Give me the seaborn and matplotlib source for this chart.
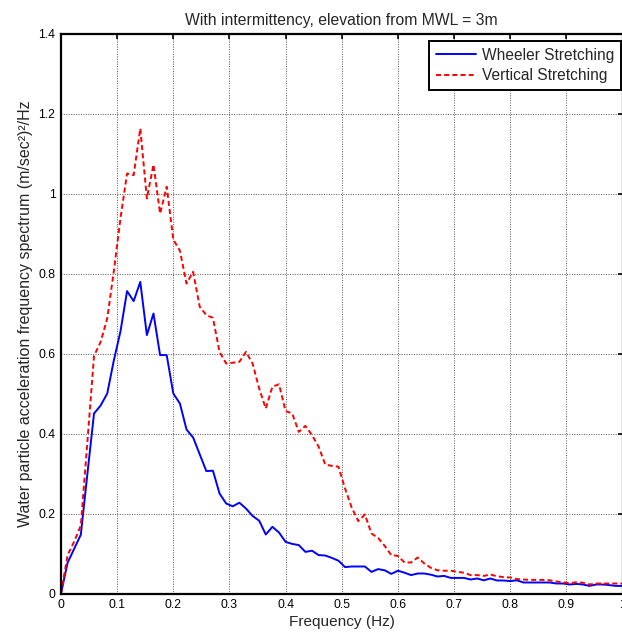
import numpy as np
import pandas as pd
import matplotlib
matplotlib.use("Agg")
import matplotlib.pyplot as plt
from matplotlib.ticker import FuncFormatter
import seaborn as sns

# Frequency grid (Hz) of the spectral estimate
freq = np.linspace(0.0, 1.0, 86)

# Acceleration spectra at 3 m above MWL, intermittency included
wheeler = [
    0.0, 0.077, 0.112, 0.147, 0.30, 0.45, 0.47, 0.50, 0.583, 0.655,
    0.756, 0.731, 0.779, 0.646, 0.70, 0.596, 0.596, 0.50, 0.475, 0.41,
    0.39, 0.348, 0.306, 0.307, 0.25, 0.225, 0.218, 0.227, 0.2125, 0.194,
    0.182, 0.1475, 0.1667, 0.1525, 0.129, 0.124, 0.121, 0.104, 0.107, 0.096,
    0.095, 0.089, 0.082, 0.066, 0.0675, 0.0675, 0.0675, 0.054, 0.061, 0.058,
    0.049, 0.057, 0.052, 0.046, 0.05, 0.05, 0.047, 0.0425, 0.044, 0.039,
    0.039, 0.039, 0.035, 0.0375, 0.033, 0.0375, 0.0325, 0.0325, 0.031, 0.033,
    0.0275, 0.0275, 0.0275, 0.0275, 0.0275, 0.025, 0.025, 0.0225, 0.024, 0.0225,
    0.019, 0.0225, 0.0225, 0.021, 0.019, 0.019,
]
vertical = [
    0.0, 0.096, 0.13, 0.17, 0.38, 0.594, 0.629, 0.6875, 0.806, 0.9375,
    1.05, 1.046, 1.1625, 0.9875, 1.0725, 0.95, 1.017, 0.885, 0.857, 0.775,
    0.804, 0.717, 0.696, 0.689, 0.604, 0.575, 0.577, 0.579, 0.604, 0.575,
    0.5125, 0.4625, 0.517, 0.523, 0.456, 0.45, 0.404, 0.419, 0.396, 0.367,
    0.3225, 0.319, 0.317, 0.2625, 0.215, 0.181, 0.1975, 0.15, 0.139, 0.119,
    0.096, 0.094, 0.0775, 0.0775, 0.09, 0.075, 0.064, 0.058, 0.057, 0.057,
    0.054, 0.052, 0.046, 0.046, 0.044, 0.0475, 0.043, 0.041, 0.040, 0.036,
    0.035, 0.034, 0.034, 0.034, 0.033, 0.030, 0.028, 0.026, 0.028, 0.027,
    0.0225, 0.025, 0.025, 0.025, 0.025, 0.025,
]
series_names = ["Wheeler Stretching", "Vertical Stretching"]
x_ticks = [0, 0.1, 0.2, 0.3, 0.4, 0.5, 0.6, 0.7, 0.8, 0.9, 1.0]
y_ticks = [0, 0.2, 0.4, 0.6, 0.8, 1.0, 1.2, 1.4]

df = pd.DataFrame({
    "freq": np.concatenate([freq, freq]),
    "S": np.concatenate([wheeler, vertical]),
    "method": [series_names[0]] * len(freq) + [series_names[1]] * len(freq),
})

sns.set_theme(style="white")
plt.rcParams["font.family"] = ["Liberation Sans", "DejaVu Sans"]
plt.rcParams["axes.unicode_minus"] = False

fig = plt.figure(figsize=(6.22, 6.37), dpi=100)
ax = fig.add_axes([61 / 622, 1 - 593.5 / 637, 561.5 / 622, 560 / 637])

sns.lineplot(data=df[df.method == series_names[0]], x="freq", y="S",
             color="#0000ff", linewidth=1.4, label=series_names[0], ax=ax)
sns.lineplot(data=df[df.method == series_names[1]], x="freq", y="S",
             color="#ff0000", linewidth=1.4, label=series_names[1], ax=ax)
ax.lines[1].set_dashes((2.6, 1.6))

ax.set_xlim(0, 1)
ax.set_ylim(0, 1.4)
ax.set_xticks(x_ticks)
ax.set_yticks(y_ticks)
fmt = FuncFormatter(lambda v, p: f"{v:g}")
ax.xaxis.set_major_formatter(fmt)
ax.yaxis.set_major_formatter(fmt)

ax.grid(True, color="#555555", linestyle=(0, (1, 1.5)), linewidth=0.7)
ax.set_axisbelow(True)
for s in ax.spines.values():
    s.set_color("black")
    s.set_linewidth(1.6)
ax.tick_params(direction="in", length=3.6, width=1.2, top=True, right=True,
               labelsize=8.7, pad=4, colors="black")

ax.set_title("With intermittency, elevation from MWL = 3m", fontsize=11.3, pad=6)
ax.set_xlabel("Frequency (Hz)", fontsize=11.1, labelpad=3)
ax.set_ylabel("Water particle acceleration frequency spectrum (m/sec²)²/Hz",
              fontsize=11.5, labelpad=4)

leg = ax.legend(loc="upper right", bbox_to_anchor=(621 / 622, 1 - 41 / 637),
                bbox_transform=fig.transFigure, borderaxespad=0,
                fontsize=11.2, frameon=True, fancybox=False, shadow=False,
                handlelength=2.57, handletextpad=0.4, borderpad=0.42,
                labelspacing=0.35)
leg.get_frame().set_edgecolor("black")
leg.get_frame().set_linewidth(1.4)
leg.get_frame().set_alpha(1)

fig.savefig("out.png", dpi=100)
